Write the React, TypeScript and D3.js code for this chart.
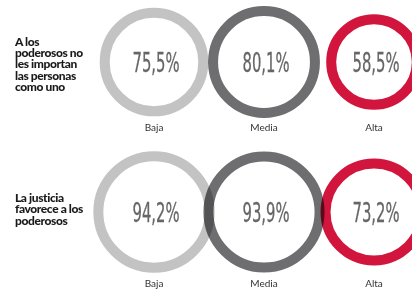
import React from "react";
import * as d3 from "d3";

const categories = ["Baja", "Media", "Alta"];
const rowTitles = [
  ["A los", "poderosos no", "les importan", "las personas", "como uno"],
  ["La justicia", "favorece a los", "poderosos"],
];
const row1Values = [75.5, 80.1, 58.5];
const row2Values = [94.2, 93.9, 73.2];
const rows = [row1Values, row2Values];
const colors = ["#c3c3c3", "#6e6e70", "#d2153d"];

const W = 412;
const H = 290;

export default function App() {
  const x = d3.scalePoint<string>().domain(categories).range([154, 374]);
  const rScale = d3.scaleSqrt().domain([0, 100]).range([0, 62.5]);
  const rowY = [62, 212];
  const labelY = [131, 287];
  const titleY = [45.5, 202];
  const stroke = 10;
  const fmt = (v: number) => d3.format(".1f")(v).replace(".", ",") + "%";

  return (
    <svg width={W} height={H} style={{ position: "absolute", left: 0, top: 0, background: "#fff" }}>
      <rect width={W} height={H} fill="#fff" />
      {rows.map((vals, ri) => (
        <g key={ri}>
          {rowTitles[ri].map((t, li) => (
            <text
              key={li}
              x={15}
              y={titleY[ri] + li * 11.4}
              fontFamily="Lato, 'Open Sans', sans-serif"
              fontWeight={900}
              fontSize={12}
              letterSpacing={-0.4}
              fill="#1a1a1a"
            >
              {t}
            </text>
          ))}
          {vals.map((v, ci) => {
            const cx = x(categories[ci])!;
            const ro = rScale(v);
            return (
              <g key={ci}>
                <circle
                  cx={cx}
                  cy={rowY[ri]}
                  r={ro - stroke / 2}
                  fill="none"
                  stroke={colors[ci]}
                  strokeWidth={stroke}
                  style={{ mixBlendMode: "multiply" }}
                />
                <text
                  x={cx + 2}
                  y={rowY[ri] + 10}
                  textAnchor="middle"
                  fontFamily="'Liberation Sans Narrow', 'DejaVu Sans Condensed', sans-serif"
                  fontSize={27}
                  textLength={47}
                  lengthAdjust="spacingAndGlyphs"
                  fill="#666"
                  stroke="#666"
                  strokeWidth={0.3}
                >
                  {fmt(v)}
                </text>
                <text
                  x={cx}
                  y={labelY[ri]}
                  textAnchor="middle"
                  fontFamily="Lato, 'Open Sans', sans-serif"
                  fontSize={10}
                  fill="#333"
                >
                  {categories[ci]}
                </text>
              </g>
            );
          })}
        </g>
      ))}
    </svg>
  );
}
